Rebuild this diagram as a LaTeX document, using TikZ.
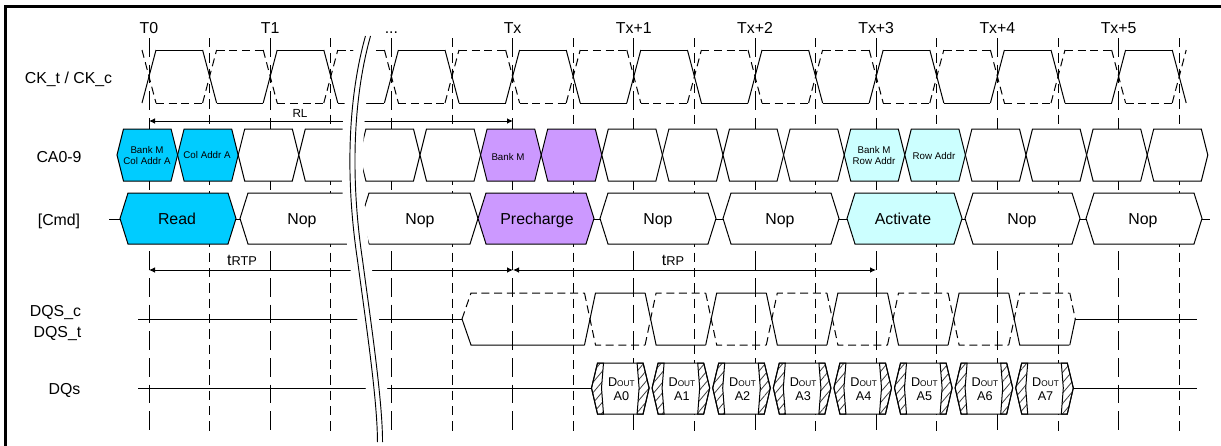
\documentclass[tikz,border=0pt]{standalone}
\usepackage{fontspec}
\setmainfont{Liberation Sans}
\usetikzlibrary{arrows.meta,patterns.meta}
\definecolor{cablue}{HTML}{00CCFF}
\definecolor{capurple}{HTML}{CC99FF}
\definecolor{calight}{HTML}{CCFFFF}
\newcommand\setfs[1]{\fontsize{#1}{#1}\selectfont}
\newcommand\tdots{...}
\begin{document}
\begin{tikzpicture}[x=0.75pt,y=-0.75pt,
  sig/.style={line width=0.75pt,line join=miter},
  ckdash/.style={dash pattern=on 6pt off 3.5pt},
  fullline/.style={line width=0.75pt,dash pattern=on 14pt off 6pt},
  halfline/.style={line width=0.75pt,dash pattern=on 7pt off 4.5pt},
  dim/.style={line width=0.75pt,{Latex[length=4.5pt,width=4.2pt]}-{Latex[length=4.5pt,width=4.2pt]}},
  lab/.style={inner sep=0pt,anchor=base,font=\setfs{11.9}},
  small/.style={inner sep=0pt,anchor=base,font=\setfs{7.3}},
  hatch/.style={line width=0.75pt,pattern={Lines[angle=50,distance=5pt,line width=0.6pt]},pattern color=black!75}
]
\useasboundingbox (0,0) rectangle (1221,446);
% frame
\draw[line width=1.6pt] (5.5,447) -- (5.5,6.5) -- (1222,6.5);

% vertical timing lines
\foreach \k in {0,...,17} {
  \pgfmathsetmacro\xx{149+60.6*\k}
  \ifodd\k \draw[halfline] (\xx,38) -- (\xx,433);
  \else \draw[fullline] (\xx,38) -- (\xx,433); \fi
}

% clock labels
\foreach \k/\t in {0/T0,2/T1,4/\tdots,6/Tx,8/Tx+1,10/Tx+2,12/Tx+3,14/Tx+4,16/Tx+5} {
  \pgfmathsetmacro\xx{149+60.6*\k}
  \node[lab] (lbl\k) at (\xx,33) {\t};
}

% clock waveform
\foreach \k in {0,...,17} {
  \pgfmathsetmacro\xa{149+60.6*\k-7}
  \pgfmathsetmacro\xb{149+60.6*\k+7}
  \ifodd\k
    \draw[sig] (\xa,50) -- (\xb,103);
    \draw[sig,ckdash] (\xa,103) -- (\xb,50);
  \else
    \draw[sig] (\xa,103) -- (\xb,50);
    \draw[sig,ckdash] (\xa,50) -- (\xb,103);
  \fi
}
\foreach \k in {0,...,16} {
  \pgfmathsetmacro\xa{149+60.6*\k+7}
  \pgfmathsetmacro\xb{149+60.6*(\k+1)-7}
  \ifodd\k
    \draw[sig] (\xa,103) -- (\xb,103);
    \draw[sig,ckdash] (\xa,50) -- (\xb,50);
  \else
    \draw[sig] (\xa,50) -- (\xb,50);
    \draw[sig,ckdash] (\xa,103) -- (\xb,103);
  \fi
}

% row labels
\node[lab] (nck) at (68.5,83) {CK\_t / CK\_c};
\node[lab] (nca) at (59,162) {CA0-9};
\node[lab] (ncmd) at (59,225) {[Cmd]};
\node[lab] (ndqsc) at (55.5,316) {DQS\_c};
\node[lab] (ndqst) at (57.5,337.5) {DQS\_t};
\node[lab] (ndq) at (64.5,394) {DQs};

% RL, tRTP, tRP
\coordinate (rlL) at (149,121);
\coordinate (rlR) at (513,121);
\draw[dim] (rlL) -- (rlR);
\node[lab,font=\setfs{8.8}] (rl) at (300,117.5) {RL};
\coordinate (tA) at (149,270);
\coordinate (tB) at (513,270);
\coordinate (tC) at (876,270);
\draw[dim] (tA) -- (tB);
\draw[dim] (tB) -- (tC);
\node[lab] (trtp) at (242,265) {t{\setfs{9.6}RTP}};
\node[lab] (trp) at (673,265) {t{\setfs{9.6}RP}};

% Cmd base line
\coordinate (cmdS) at (109,219);
\coordinate (cmdE) at (1210,219);
\draw[sig] (cmdS) -- (cmdE);

% CA hexagons
\foreach \k/\col in {0/cablue,1/cablue,2/white,3/white,4/white,5/white,6/capurple,7/capurple,8/white,9/white,10/white,11/white,12/calight,13/calight,14/white,15/white,16/white,17/white} {
  \pgfmathsetmacro\xl{149+60.6*\k-32}
  \pgfmathsetmacro\xr{149+60.6*\k+28.6}
  \draw[sig,fill=\col] (\xl,155) -- (\xl+6.5,129) -- (\xr-6.5,129) -- (\xr,155) -- (\xr-6.5,181) -- (\xl+6.5,181) -- cycle;
}
\node[small] (ca0a) at (147,153.3) {Bank M};
\node[small] (ca0b) at (147,164.3) {Col Addr A};
\node[small] (ca1) at (207,158.3) {Col Addr A};
\node[small] (ca6) at (508,160.3) {Bank M};
\node[small] (ca12a) at (874,153.3) {Bank M};
\node[small] (ca12b) at (874,164.3) {Row Addr};
\node[small] (ca13) at (934,159) {Row Addr};

% Cmd hexagons
\foreach \l/\r/\col/\t/\tx in {120/236/cablue/Read/177, 240/361/white/Nop/302, 361/478/white/Nop/420, 478/594/capurple/Precharge/537, 600/716/white/Nop/658, 723/839/white/Nop/780, 847/962/calight/Activate/903, 965/1080/white/Nop/1022, 1086/1202/white/Nop/1143} {
  \draw[sig,fill=\col] (\l,218.5) -- (\l+8,193) -- (\r-8,193) -- (\r,218.5) -- (\r-8,244) -- (\l+8,244) -- cycle;
  \node[lab] (cmd\l) at (\tx,224.7) {\t};
}

% DQS waveform
\coordinate (dqsS) at (138,319);
\coordinate (dqsP) at (462,319);
\draw[sig] (dqsS) -- (dqsP);
\draw[sig] (dqsP) -- (471,345) -- (584.5,345);
\draw[sig,ckdash] (dqsP) -- (471,293) -- (584.5,293);
\foreach \m in {0,...,7} {
  \pgfmathsetmacro\xa{590+60.6*\m-5.5}
  \pgfmathsetmacro\xb{590+60.6*\m+5.5}
  \pgfmathsetmacro\xc{590+60.6*(\m+1)-5.5}
  \ifodd\m
    \draw[sig] (\xa,293) -- (\xb,345) -- (\xc,345);
    \draw[sig,ckdash] (\xa,345) -- (\xb,293) -- (\xc,293);
  \else
    \draw[sig] (\xa,345) -- (\xb,293) -- (\xc,293);
    \draw[sig,ckdash] (\xa,293) -- (\xb,345) -- (\xc,345);
  \fi
}
\coordinate (dqsQ) at (1075.3,319);
\coordinate (dqsE) at (1197,319);
\draw[sig] (dqsQ) -- (dqsE);
\draw[sig] (1069.8,345) -- (dqsQ);
\draw[sig,ckdash] (1069.8,293) -- (dqsQ);

% DQs
\coordinate (dqS) at (138,388);
\coordinate (dqA) at (591.5,388);
\coordinate (dqB) at (1073.3,388);
\coordinate (dqE) at (1197,388);
\draw[sig] (dqS) -- (dqA);
\draw[sig] (dqB) -- (dqE);
\foreach \m in {0,...,7} {
  \pgfmathsetmacro\L{590+60.6*\m+1.5}
  \pgfmathsetmacro\R{590+60.6*(\m+1)-1.5}
  \pgfmathsetmacro\C{(\L+\R)/2+1}
  \draw[sig,fill=white] (\L,388) -- (\L+6,363) -- (\R-6,363) -- (\R,388) -- (\R-6,414) -- (\L+6,414) -- cycle;
  \draw[hatch] (\L,388) -- (\L+6,363) -- (\L+12,363) -- (\L+10,388) -- (\L+12,414) -- (\L+6,414) -- cycle;
  \draw[hatch] (\R,388) -- (\R-6,363) -- (\R-12,363) -- (\R-10,388) -- (\R-12,414) -- (\R-6,414) -- cycle;
  \node[inner sep=0pt,anchor=base,font=\setfs{9.5}] (dout\m) at (\C,386.5) {D{\setfs{6.2}OUT}};
  \node[inner sep=0pt,anchor=base,font=\setfs{9.5}] (da\m) at (\C,400.5) {A\m};
}

% break
\draw[white,line width=16pt] (368,36) .. controls (350,100) and (348,180) .. (360,260) .. controls (368,320) and (380,400) .. (380,442);
\draw[sig,line width=0.7pt,xshift=-1.9pt] (368,36) .. controls (350,100) and (348,180) .. (360,260) .. controls (368,320) and (380,400) .. (380,442);
\draw[sig,line width=0.7pt,xshift=1.9pt] (368,36) .. controls (350,100) and (348,180) .. (360,260) .. controls (368,320) and (380,400) .. (380,442);
\end{tikzpicture}
\end{document}
